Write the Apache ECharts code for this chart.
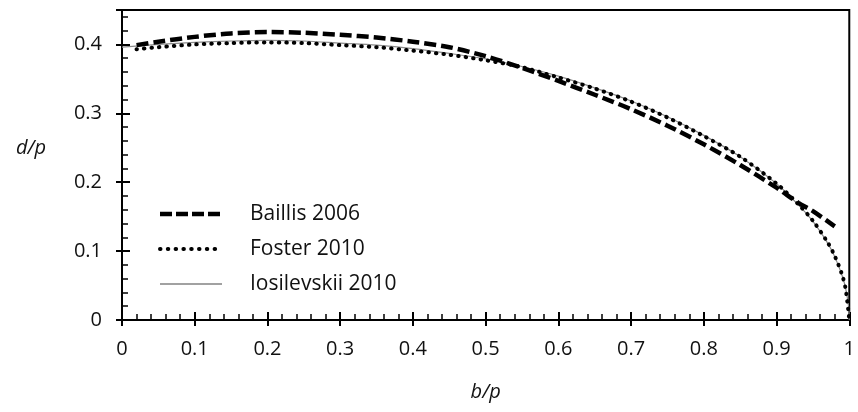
<!DOCTYPE html>
<html>
<head>
<meta charset="utf-8">
<script src="https://cdn.jsdelivr.net/npm/echarts@6/dist/echarts.min.js"></script>
<style>
html,body{margin:0;padding:0;background:#fff;}
#chart{width:858px;height:412px;}
</style>
</head>
<body>
<div id="chart"></div>
<script>
// b/p values and d/p values
const baillisX = [0.02, 0.05, 0.1, 0.15, 0.2, 0.25, 0.3, 0.35, 0.4, 0.45, 0.5, 0.55, 0.6, 0.65, 0.7, 0.75, 0.8, 0.85, 0.9, 0.93, 0.95, 0.98];
const baillisY = [0.399, 0.404, 0.411, 0.416, 0.418, 0.417, 0.414, 0.410, 0.404, 0.396, 0.383, 0.366, 0.347, 0.327, 0.306, 0.282, 0.255, 0.225, 0.192, 0.170, 0.158, 0.136];

const fosterX = [0.02, 0.05, 0.1, 0.15, 0.2, 0.25, 0.3, 0.35, 0.4, 0.45, 0.5, 0.55, 0.6, 0.65, 0.7, 0.75, 0.8, 0.85, 0.9, 0.93, 0.95, 0.97, 0.98, 0.99, 0.995, 1.0];
const fosterY = [0.393, 0.396, 0.400, 0.402, 0.403, 0.402, 0.399, 0.396, 0.391, 0.385, 0.377, 0.367, 0.352, 0.336, 0.317, 0.294, 0.267, 0.237, 0.198, 0.168, 0.144, 0.113, 0.093, 0.066, 0.045, 0.0];

const iosX = [0, 0.05, 0.1, 0.15, 0.2, 0.25, 0.3, 0.35, 0.4, 0.45, 0.5, 0.55, 0.6, 0.65, 0.7, 0.75, 0.8, 0.85, 0.9, 0.93, 0.95, 0.97, 0.98, 0.99, 0.995, 0.999, 1.0];
const iosY = [0.396, 0.400, 0.403, 0.405, 0.406, 0.405, 0.402, 0.399, 0.394, 0.387, 0.379, 0.368, 0.354, 0.337, 0.318, 0.295, 0.268, 0.237, 0.198, 0.167, 0.143, 0.112, 0.092, 0.065, 0.046, 0.020, 0.0];

const seriesNames = ['Baillis 2006', 'Foster 2010', 'Iosilevskii 2010'];
const xAxisName = 'b/p';
const yAxisName = 'd/p';

const zip = (xs, ys) => xs.map((x, i) => [x, ys[i]]);
const FONT = 'Open Sans';

const styles = [
  {color: '#000', width: 4.5, type: [12, 5], cap: 'butt'},
  {color: '#000', width: 4, type: [0.5, 7], cap: 'round'},
  {color: '#8a8a8a', width: 1.2, type: 'solid', cap: 'butt'}
];
const legendStyles = [
  {stroke: '#000', lineWidth: 4.5, lineDash: [12, 4], lineCap: 'butt'},
  {stroke: '#000', lineWidth: 4, lineDash: [0.5, 7.3], lineCap: 'round'},
  {stroke: '#444', lineWidth: 1.2, lineDash: null, lineCap: 'butt'}
];

const chart = echarts.init(document.getElementById('chart'), null, {renderer: 'canvas'});
const xBase = {type: 'value', min: 0, max: 1, interval: 0.1, splitLine: {show: false}};
const yBase = {type: 'value', min: 0, max: 0.45, interval: 0.1, splitLine: {show: false}};

const graphics = [];
seriesNames.forEach((name, i) => {
  const cy = 214 + i * 35;
  graphics.push({type: 'line', shape: {x1: 160, y1: cy, x2: 222, y2: cy}, style: legendStyles[i], silent: true});
  graphics.push({type: 'text', x: 250, y: cy, style: {text: name, font: '21px "' + FONT + '"', fill: '#111', verticalAlign: 'middle', align: 'left'}, silent: true});
});
graphics.push({type: 'text', x: 31, y: 148, style: {text: yAxisName, font: 'italic 20px "' + FONT + '"', fill: '#111', verticalAlign: 'middle', align: 'center'}, silent: true});

chart.setOption({
  backgroundColor: '#fff',
  animation: false,
  grid: {left: 122, right: 5, top: 10, bottom: 92, show: true, borderColor: '#000', borderWidth: 2, backgroundColor: 'transparent'},
  graphic: graphics,
  xAxis: [
    Object.assign({}, xBase, {
      position: 'bottom',
      name: xAxisName, nameLocation: 'middle', nameGap: 62,
      nameTextStyle: {fontFamily: FONT, fontSize: 20, fontStyle: 'italic', color: '#111'},
      axisLine: {show: true, lineStyle: {color: '#000', width: 2}},
      axisTick: {show: true, inside: true, length: 8, lineStyle: {color: '#000', width: 2}},
      minorTick: {show: true, splitNumber: 5, length: 6, lineStyle: {color: '#000', width: 1.5}},
      axisLabel: {fontFamily: FONT, fontSize: 20, color: '#111', margin: 19,
        formatter: v => String(Math.round(v * 10) / 10)}
    }),
    Object.assign({}, xBase, {
      position: 'bottom',
      axisLine: {show: false},
      axisTick: {show: true, inside: false, length: 6, lineStyle: {color: '#000', width: 2}},
      axisLabel: {show: false}
    })
  ],
  yAxis: [
    Object.assign({}, yBase, {
      position: 'left',
      axisLine: {show: true, lineStyle: {color: '#000', width: 2}},
      axisTick: {show: true, inside: true, length: 8, lineStyle: {color: '#000', width: 2}},
      minorTick: {show: true, splitNumber: 5, length: 6, lineStyle: {color: '#000', width: 1.5}},
      axisLabel: {fontFamily: FONT, fontSize: 20, color: '#111', margin: 20, showMaxLabel: false,
        formatter: v => String(Math.round(v * 10) / 10)}
    }),
    Object.assign({}, yBase, {
      position: 'left',
      axisLine: {show: false},
      axisTick: {show: true, inside: false, length: 6, lineStyle: {color: '#000', width: 2}},
      axisLabel: {show: false}
    })
  ],
  series: [
    {name: seriesNames[0], type: 'line', data: zip(baillisX, baillisY), smooth: 0.3, symbol: 'none', z: 3,
      lineStyle: {color: styles[0].color, width: styles[0].width, type: styles[0].type, cap: styles[0].cap}},
    {name: seriesNames[1], type: 'line', data: zip(fosterX, fosterY), smooth: 0.3, symbol: 'none', z: 3,
      lineStyle: {color: styles[1].color, width: styles[1].width, type: styles[1].type, cap: styles[1].cap}},
    {name: seriesNames[2], type: 'line', data: zip(iosX, iosY), smooth: 0.3, symbol: 'none', z: 2,
      lineStyle: {color: styles[2].color, width: styles[2].width}}
  ]
});
</script>
</body>
</html>
